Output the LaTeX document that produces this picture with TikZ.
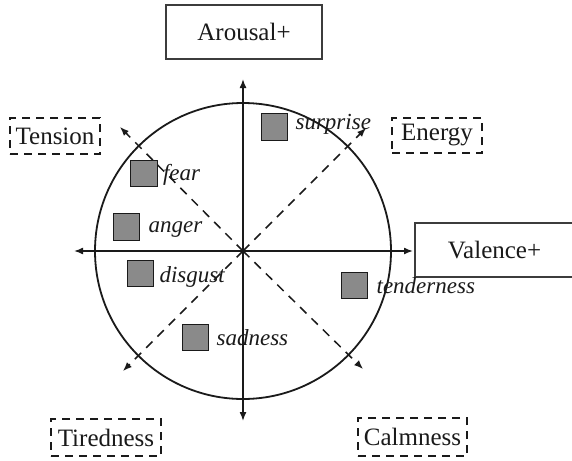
\documentclass[tikz,border=0pt]{standalone}
\usepackage{fontspec}
\setmainfont{Liberation Serif}
\usetikzlibrary{arrows.meta}
\definecolor{sqfill}{HTML}{8A8A8A}
\definecolor{ink}{HTML}{1A1A1A}
\begin{document}
\begin{tikzpicture}[x=1pt,y=-1pt,
  solidbox/.style={draw=ink!85,line width=1.1pt,inner sep=0pt,text=ink,font=\fontsize{25}{29}\selectfont},
  dashbox/.style={draw=ink,line width=1.6pt,dash pattern=on 8pt off 6pt,inner sep=0pt,text=ink,font=\fontsize{25}{29}\selectfont},
  axisline/.style={draw=ink,line width=1.5pt,-{Latex[length=9pt,width=7pt]}},
  diagline/.style={draw=ink,line width=1.5pt,dash pattern=on 9pt off 7pt,-{Latex[length=9pt,width=7pt]}},
  sq/.style={draw=ink,line width=1.3pt,fill=sqfill,minimum size=26.5pt,inner sep=0pt},
  lab/.style={text=ink,inner sep=0pt,anchor=base west,font=\fontsize{23}{27}\selectfont\itshape}]
\useasboundingbox[fill=white] (0,0) rectangle (572,460);
% centre and ends
\coordinate (O) at (243,251);
\coordinate (T) at (243,79);
\coordinate (B) at (243,421);
\coordinate (L) at (74,251);
\coordinate (R) at (413,251);
\coordinate (NW) at (120,127);
\coordinate (NE) at (366,128);
\coordinate (SW) at (123,371);
\coordinate (SE) at (363,369);
% circle
\draw[ink,line width=1.8pt] (O) circle[radius=148];
% axes
\draw[axisline] (O) -- (T);
\draw[axisline] (O) -- (B);
\draw[axisline] (O) -- (L);
\draw[axisline] (O) -- (R);
% diagonals
\draw[diagline] (O) -- (NW);
\draw[diagline] (O) -- (NE);
\draw[diagline] (O) -- (SW);
\draw[diagline] (O) -- (SE);
% boxes
\node[solidbox,minimum width=156pt,minimum height=54pt] (arousal) at (244,32) {Arousal+};
\node[solidbox,minimum width=159pt,minimum height=54pt] (valence) at (494.5,250) {Valence+};
\node[dashbox,minimum width=90pt,minimum height=36pt] (tension) at (55,136) {Tension};
\node[dashbox,minimum width=90pt,minimum height=35pt] (energy) at (437,135.5) {Energy};
\node[dashbox,minimum width=110pt,minimum height=37pt] (tiredness) at (106,437.5) {Tiredness};
\node[dashbox,minimum width=109pt,minimum height=38pt] (calmness) at (412.5,437) {Calmness};
% emotion squares
\node[sq] (sqsurprise) at (274.5,127) {};
\node[sq] (sqfear) at (144,173.5) {};
\node[sq] (sqanger) at (126.5,227) {};
\node[sq] (sqdisgust) at (140.5,273.5) {};
\node[sq] (sqtender) at (354.5,285.5) {};
\node[sq] (sqsad) at (195.5,337.5) {};
% labels
\node[lab] (lsurprise) at ([xshift=7pt,yshift=-2pt]sqsurprise.east) {surprise};
\node[lab] (lfear) at ([xshift=5pt,yshift=-6.5pt]sqfear.east) {fear};
\node[lab] (langer) at ([xshift=8pt,yshift=-5pt]sqanger.east) {anger};
\node[lab] (ldisgust) at ([xshift=5pt,yshift=-8.5pt]sqdisgust.east) {disgust};
\node[lab] (ltender) at ([xshift=8pt,yshift=-7.5pt]sqtender.east) {tenderness};
\node[lab] (lsad) at ([xshift=7pt,yshift=-7.5pt]sqsad.east) {sadness};
\end{tikzpicture}
\end{document}
